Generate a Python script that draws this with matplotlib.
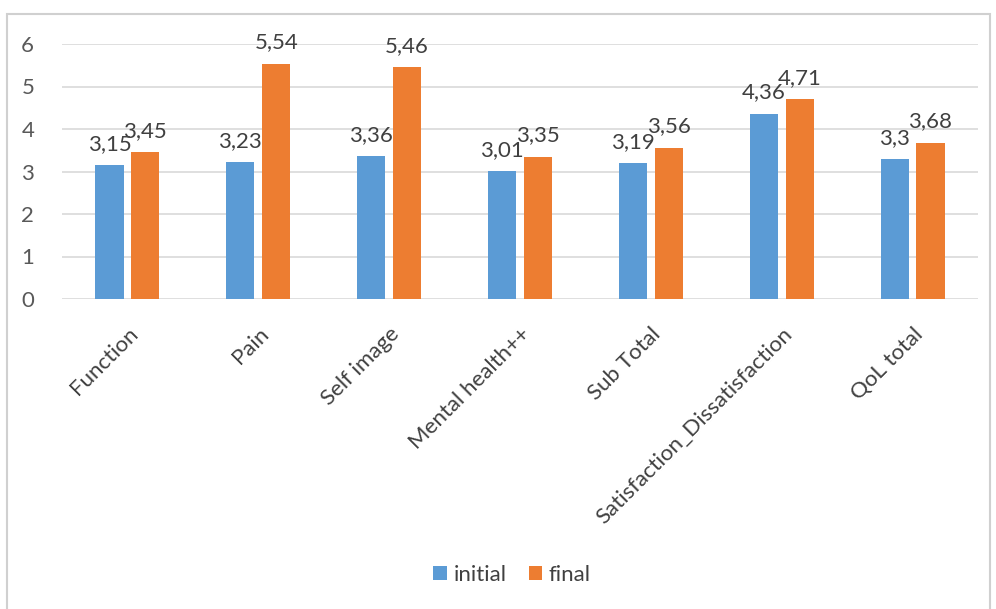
import numpy as np
import matplotlib
matplotlib.use('Agg')
import matplotlib.pyplot as plt
from matplotlib.patches import Rectangle

# --- Data ---
categories = ['Function', 'Pain', 'Self image', 'Mental health++', 'Sub Total',
              'Satisfaction_Dissatisfaction', 'QoL total']
initial = [3.15, 3.23, 3.36, 3.01, 3.19, 4.36, 3.3]
final = [3.45, 5.54, 5.46, 3.35, 3.56, 4.71, 3.68]
series_names = ['initial', 'final']

blue = '#5B9BD5'
orange = '#ED7D31'
txt = '#404040'

plt.rcParams['font.family'] = ['Lato', 'DejaVu Sans']

fig = plt.figure(figsize=(9.96, 6.09), dpi=100)
ax = fig.add_axes([62 / 996, 1 - 299 / 609, (978 - 62) / 996, (299 - 44) / 609])

x = np.arange(len(categories))
w = 0.215
off = 0.137
b1 = ax.bar(x - off, initial, w, color=blue, label=series_names[0], zorder=3)
b2 = ax.bar(x + off, final, w, color=orange, label=series_names[1], zorder=3)

def fmt(v):
    return ('%g' % v).replace('.', ',')

for bars, vals in ((b1, initial), (b2, final)):
    for rect, v in zip(bars, vals):
        ax.annotate(fmt(v), (rect.get_x() + rect.get_width() / 2, v),
                    xytext=(0, 8), textcoords='offset points',
                    ha='center', va='bottom', fontsize=16, color=txt, zorder=4)

ax.set_xlim(-0.5, len(categories) - 0.5)
ax.set_ylim(0, 6)
ax.set_yticks(range(7))
ax.yaxis.grid(True, color='#d9d9d9', linewidth=1.2, zorder=0)
ax.set_axisbelow(True)
for s in ax.spines.values():
    s.set_visible(False)
ax.tick_params(axis='both', length=0, labelsize=16, labelcolor='#595959')
ax.tick_params(axis='y', pad=20)
ax.set_xticks(x)
ax.set_xticklabels(categories, rotation=45, ha='right', va='top',
                   rotation_mode='anchor', color=txt)
ax.tick_params(axis='x', pad=18)

fig.legend(handles=[b1, b2], labels=series_names, loc='center',
           bbox_to_anchor=(512 / 996, 1 - 575 / 609), ncol=2, frameon=False,
           fontsize=16, handlelength=0.6, handleheight=0.6, handletextpad=0.3,
           columnspacing=1.0, labelcolor=txt)

# light border around the chart area
fig.patches.append(Rectangle((7 / 996, -0.02), (990 - 7) / 996, 1 - 14 / 609 + 0.02,
                             transform=fig.transFigure, fill=False,
                             edgecolor='#d0d0d0', linewidth=1.5))

fig.savefig('out.png', dpi=100)
